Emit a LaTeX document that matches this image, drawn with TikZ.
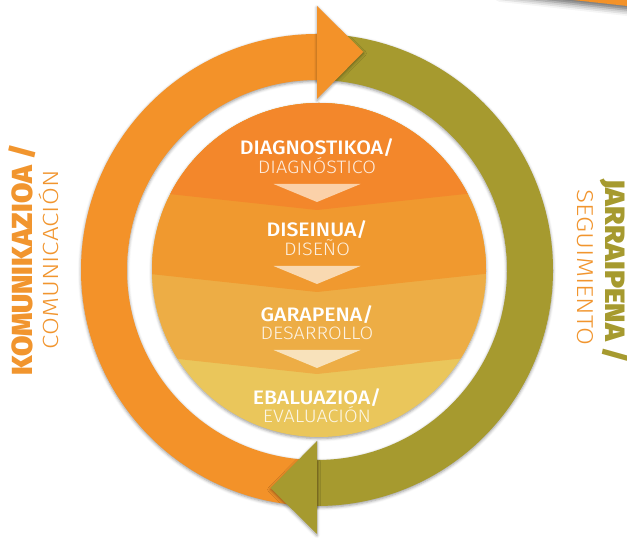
\documentclass[tikz,border=0pt]{standalone}
\usepackage{fontspec}
\usetikzlibrary{calc, shadows.blur}
\newfontfamily\semib{Fira Sans Medium}
\newfontfamily\lite{Fira Sans Light}
\newfontfamily\heavy{Fira Sans Black}

\definecolor{ringorange}{HTML}{F39229}
\definecolor{ringolive}{HTML}{A69A2F}
\definecolor{bandA}{HTML}{F3872B}
\definecolor{bandB}{HTML}{F0992F}
\definecolor{bandC}{HTML}{EDAD45}
\definecolor{bandD}{HTML}{EAC65B}
\definecolor{triA}{HTML}{FBD1A9}
\definecolor{triB}{HTML}{F9D9B1}
\definecolor{triC}{HTML}{F8E2BB}
\definecolor{sideorange}{HTML}{F1952E}

\tikzset{
  softshadow/.style={blur shadow={shadow xshift=0pt, shadow yshift=-1.5pt, shadow blur radius=3pt, shadow opacity=40}},
  stagebold/.style={text=white, font=\semib\fontsize{19.5}{20}\selectfont, anchor=base, inner sep=0pt, xscale=1.09},
  stagelite/.style={text=white, text opacity=.85, font=\lite\fontsize{18}{19}\selectfont, anchor=base, inner sep=0pt, xscale=1.1},
  sidetext/.style={anchor=base, inner sep=0pt},
}

\begin{document}
\begin{tikzpicture}[x=1pt, y=1pt]
\useasboundingbox (0,0) rectangle (627,540);
\clip (0,0) rectangle (627,540);

\fill[ringorange, blur shadow={shadow xshift=0pt, shadow yshift=-4pt, shadow blur radius=6pt, shadow opacity=60}] (500,548.1) -- (640,532.6) -- (640,560) -- (500,560) -- cycle; %corner band

\begin{scope}[shift={(317,270)}]
\fill[ringolive, softshadow] (-90:236) arc[start angle=-90, end angle=90, radius=236] -- (90:190) arc[start angle=90, end angle=-90, radius=190] -- cycle; %right half
\fill[ringorange, softshadow] (90:236) arc[start angle=90, end angle=270, radius=236] -- (270:190) arc[start angle=270, end angle=90, radius=190] -- cycle; %left half
\fill[ringorange, softshadow] (90:171) -- (90:264) -- (78:223) -- cycle; %top head
\fill[ringolive, softshadow] (270:171) -- (270:264) -- (258:223) -- cycle; %bottom head
\end{scope}

\fill[bandD, softshadow] (319,270) circle[radius=167];
\begin{scope}
\clip (319,270) circle[radius=167];
\foreach \yc/\col in {166/bandC, 248/bandB, 330/bandA}
  \fill[\col] (130,\yc+20.2) -- (317,\yc) -- (510,\yc+20.8) -- (510,450) -- (130,450) -- cycle;
\end{scope}

\node[stagebold] (diagEu) at (317,385) {DIAGNOSTIKOA/};
\node[stagelite] (diagEs) at (317,366) {DIAGNÓSTICO};
\node[stagebold] (disEu) at (317,303) {DISEINUA/};
\node[stagelite] (disEs) at (317,284) {DISEÑO};
\node[stagebold] (garEu) at (317,218) {GARAPENA/};
\node[stagelite] (garEs) at (317,200) {DESARROLLO};
\node[stagebold] (ebaEu) at (317,135) {EBALUAZIOA/};
\node[stagelite] (ebaEs) at (317,117) {EVALUACIÓN};

\foreach \a/\col in {diagEs/triA, disEs/triB, garEs/triC}
  \fill[\col] ($(\a.base)+(-43.5,-10)$) -- ($(\a.base)+(43.5,-10)$) -- ($(\a.base)+(0,-28)$) -- cycle;

\node[sidetext, rotate=90, xscale=1.02, text=sideorange, font=\heavy\fontsize{29}{29}\selectfont] (komEu) at (32,280) {KOMUNIKAZIOA /};
\node[sidetext, rotate=90, xscale=1.18, text=sideorange, font=\lite\fontsize{22}{22}\selectfont] (komEs) at (58,280) {COMUNICACIÓN};
\node[sidetext, rotate=-90, xscale=1.06, text=ringolive, font=\heavy\fontsize{28}{28}\selectfont] (jarEu) at (605,269) {JARRAIPENA /};
\node[sidetext, rotate=-90, xscale=1.13, text=sideorange, font=\lite\fontsize{23}{23}\selectfont] (jarEs) at (577,272.5) {SEGUIMIENTO};
\end{tikzpicture}
\end{document}
